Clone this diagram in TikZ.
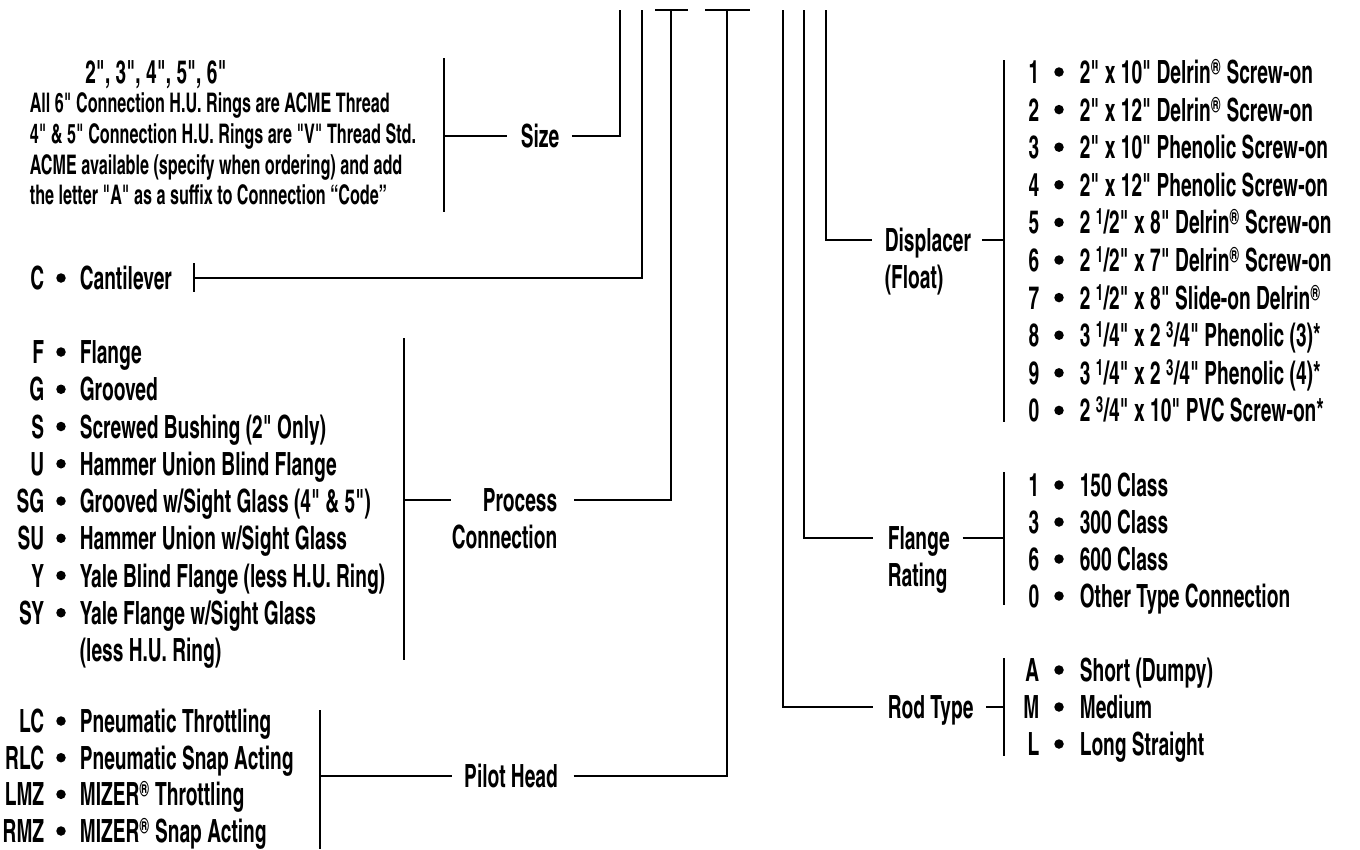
\documentclass[tikz,border=0pt]{standalone}
\usepackage{fontspec}
\newfontfamily\cnd[FakeStretch=0.73]{texgyreheroscn-bold.otf}
\newcommand\reg{\textsuperscript{®}}
\newcommand\fr[2]{\,\textsuperscript{#1}/#2}
\tikzset{
  it/.style={inner sep=0pt, font=\cnd\fontsize{32pt}{34pt}\selectfont, text height=23pt, text depth=0pt},
  sm/.style={inner sep=0pt, font=\cnd\fontsize{27pt}{29pt}\selectfont, text height=19.4pt, text depth=0pt},
  dot/.style={circle, fill=black, inner sep=0pt, minimum size=9.5pt},
}
% left list row: name, y, code, text
\newcommand\Lrow[4]{%
  \node[it,anchor=east] (#1c) at (45,#2) {#3};
  \node[dot] (#1b) at (61,#2) {};
  \node[it,anchor=west] (#1t) at (79,#2) {#4};}
% right list row
\newcommand\Rrow[4]{%
  \node[it,anchor=east] (#1c) at (1040,#2) {#3};
  \node[dot] (#1b) at (1059,#2) {};
  \node[it,anchor=west] (#1t) at (1079,#2) {#4};}
\begin{document}
\begin{tikzpicture}[x=1pt,y=-1pt,line width=1.6pt]
\useasboundingbox (0,0) rectangle (1360,849);
% top verticals
\coordinate (v1) at (620,10);
\coordinate (v2) at (642,10);
\coordinate (v3) at (671,10);
\coordinate (v4) at (727,10);
\coordinate (v5) at (783,10);
\coordinate (v6) at (804,10);
\coordinate (v7) at (826,10);
\coordinate (t3a) at (655,10); \coordinate (t3b) at (688,10);
\coordinate (t4a) at (705,10); \coordinate (t4b) at (750,10);
\draw (t3a) -- (t3b);
\draw (t4a) -- (t4b);

% ---------------- Size
\node[it] (sizes) at (156,72) {2",\,3",\,4",\,5",\,6"};
\node[sm,anchor=west] (s1) at (29,103) {All 6" Connection H.U. Rings are ACME Thread};
\node[sm,anchor=west] (s2) at (29,134) {4" \& 5" Connection H.U. Rings are "V" Thread Std.};
\node[sm,anchor=west] (s3) at (29,165) {ACME available (specify when ordering) and add};
\node[sm,anchor=west] (s4) at (29,195) {the letter "A" as a suffix to Connection “Code”};
\coordinate (bS1) at (444,58); \coordinate (bS2) at (444,212);
\node[it] (size) at (540,136) {Size};
\draw (bS1) -- (bS2);
\draw (bS1 |- size.west) -- ([xshift=-13pt]size.west);
\draw ([xshift=12pt]size.east) -| (v1);

% ---------------- Cantilever
\Lrow{cant}{278}{C}{Cantilever}
\coordinate (cT1) at (194,263); \coordinate (cT2) at (194,292);
\draw (cT1) -- (cT2);
\draw (cT1 |- cantt.west) -| (v2);

% ---------------- Process connection
\Lrow{pF}{352}{F}{Flange}
\Lrow{pG}{389.25}{G}{Grooved}
\Lrow{pS}{426.5}{S}{Screwed Bushing (2" Only)}
\Lrow{pU}{463.75}{U}{Hammer Union Blind Flange}
\Lrow{pSG}{501}{SG}{Grooved w/Sight Glass (4"\,\&\,5")}
\Lrow{pSU}{538.25}{SU}{Hammer Union w/Sight Glass}
\Lrow{pY}{575.5}{Y}{Yale Blind Flange (less H.U. Ring)}
\Lrow{pSY}{612.75}{SY}{Yale Flange w/Sight Glass}
\node[it,anchor=west] (pSYt2) at (79,650) {(less H.U. Ring)};
\node[it,anchor=east] (proc) at (558,500) {Process};
\node[it,anchor=east] (procb) at (558,537) {Connection};
\coordinate (bP1) at (404,338); \coordinate (bP2) at (404,660);
\draw (bP1) -- (bP2);
\draw (bP1 |- proc.west) -- (procb.west |- proc.west);
\draw ([xshift=16pt]proc.east) -| (v3);

% ---------------- Pilot head
\Lrow{hLC}{721}{LC}{Pneumatic Throttling}
\Lrow{hRLC}{757.7}{RLC}{Pneumatic Snap Acting}
\Lrow{hLMZ}{794.3}{LMZ}{MIZER\reg\ Throttling}
\Lrow{hRMZ}{831}{RMZ}{MIZER\reg\ Snap Acting}
\node[it] (pilot) at (511,776) {Pilot Head};
\coordinate (bH1) at (320,710); \coordinate (bH2) at (320,849);
\draw (bH1) -- (bH2);
\draw (bH1 |- pilot.west) -- ([xshift=-11pt]pilot.west);
\draw ([xshift=15pt]pilot.east) -| (v4);

% ---------------- Displacer
\node[it,anchor=west] (disp) at (884,240) {Displacer};
\node[it,anchor=west] (dispb) at (884,277) {(Float)};
\coordinate (bD1) at (1004,60); \coordinate (bD2) at (1004,422);
\draw (bD1) -- (bD2);
\draw (v7) |- ([xshift=-12pt]disp.west);
\draw ([xshift=10pt]disp.east) -- (bD1 |- disp.east);
\Rrow{d1}{72}{1}{2" x 10" Delrin\reg\ Screw-on}
\Rrow{d2}{109.6}{2}{2" x 12" Delrin\reg\ Screw-on}
\Rrow{d3}{147.2}{3}{2" x 10" Phenolic Screw-on}
\Rrow{d4}{184.8}{4}{2" x 12" Phenolic Screw-on}
\Rrow{d5}{222.4}{5}{2\fr{1}{2}" x 8" Delrin\reg\ Screw-on}
\Rrow{d6}{260}{6}{2\fr{1}{2}" x 7" Delrin\reg\ Screw-on}
\Rrow{d7}{297.6}{7}{2\fr{1}{2}" x 8" Slide-on Delrin\reg}
\Rrow{d8}{335.2}{8}{3\fr{1}{4}" x 2\fr{3}{4}" Phenolic (3)*}
\Rrow{d9}{372.8}{9}{3\fr{1}{4}" x 2\fr{3}{4}" Phenolic (4)*}
\Rrow{d0}{410.4}{0}{2\fr{3}{4}" x 10" PVC Screw-on*}

% ---------------- Flange rating
\node[it,anchor=west] (fl) at (887,538) {Flange};
\node[it,anchor=west] (flb) at (887,575) {Rating};
\coordinate (bF1) at (1004,472); \coordinate (bF2) at (1004,605);
\draw (bF1) -- (bF2);
\draw (v6) |- ([xshift=-14pt]fl.west);
\draw ([xshift=12pt]fl.east) -- (bF1 |- fl.east);
\Rrow{f1}{485}{1}{150 Class}
\Rrow{f3}{522}{3}{300 Class}
\Rrow{f6}{559}{6}{600 Class}
\Rrow{f0}{596}{0}{Other Type Connection}

% ---------------- Rod type
\node[it,anchor=west] (rod) at (887,707) {Rod Type};
\coordinate (bR1) at (1004,658); \coordinate (bR2) at (1004,756);
\draw (bR1) -- (bR2);
\draw (v5) |- ([xshift=-14pt]rod.west);
\draw ([xshift=12pt]rod.east) -- (bR1 |- rod.east);
\Rrow{rA}{670}{A}{Short (Dumpy)}
\Rrow{rM}{707}{M}{Medium}
\Rrow{rL}{744}{L}{Long Straight}
\end{tikzpicture}
\end{document}
